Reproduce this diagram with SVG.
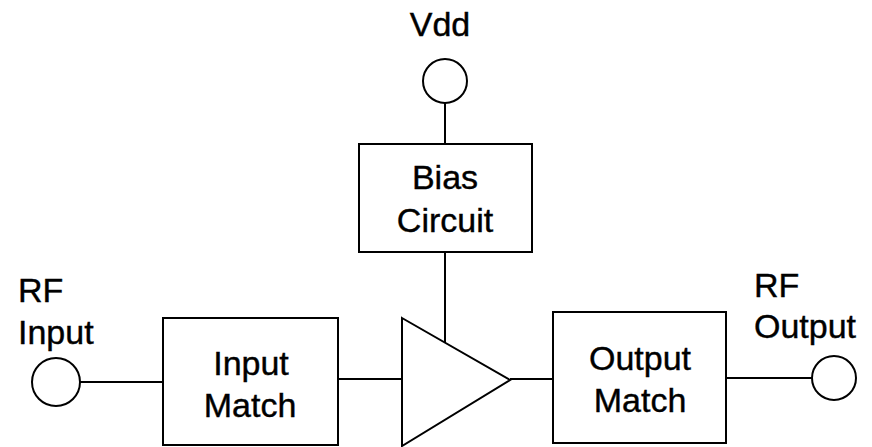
<svg xmlns="http://www.w3.org/2000/svg" width="872" height="447" viewBox="0 0 872 447">
<style>
.s{fill:none;stroke:#000;stroke-width:2}
.b{fill:#fff;stroke:#000;stroke-width:2}
text{font-family:"Liberation Sans",Arial,sans-serif;font-size:34px;fill:#000;stroke:#000;stroke-width:0.4}
.c{text-anchor:middle}
</style>
<rect width="872" height="447" fill="#fff"/>
<g id="connectors">
<line class="s" x1="445" y1="103" x2="445" y2="144"/>
<line class="s" x1="445" y1="252" x2="445" y2="343"/>
<line class="s" x1="80" y1="382" x2="163" y2="382"/>
<line class="s" x1="338" y1="379" x2="402" y2="379"/>
<line class="s" x1="510" y1="379" x2="553" y2="379"/>
<line class="s" x1="726" y1="378" x2="812" y2="378"/>
</g>
<g id="vdd">
<circle class="b" cx="445" cy="81" r="22"/>
<text class="c" x="440" y="36">Vdd</text>
</g>
<g id="bias">
<rect class="b" x="359" y="144" width="173" height="108"/>
<text class="c" x="445" y="189">Bias</text>
<text class="c" x="445" y="232">Circuit</text>
</g>
<g id="rfin">
<circle class="b" cx="56" cy="382" r="24"/>
<text x="18" y="302">RF</text>
<text x="18" y="344">Input</text>
</g>
<g id="inmatch">
<rect class="b" x="163" y="318" width="175" height="127"/>
<text class="c" x="251" y="375">Input</text>
<text class="c" x="250" y="417">Match</text>
</g>
<g id="amp">
<polygon class="b" points="402,318 510,380 402,446" style="stroke-linejoin:miter"/>
</g>
<g id="outmatch">
<rect class="b" x="553" y="312" width="173" height="131"/>
<text class="c" x="640" y="370">Output</text>
<text class="c" x="640" y="412">Match</text>
</g>
<g id="rfout">
<circle class="b" cx="834" cy="378" r="22"/>
<text x="754" y="297">RF</text>
<text x="754" y="338">Output</text>
</g>
</svg>
